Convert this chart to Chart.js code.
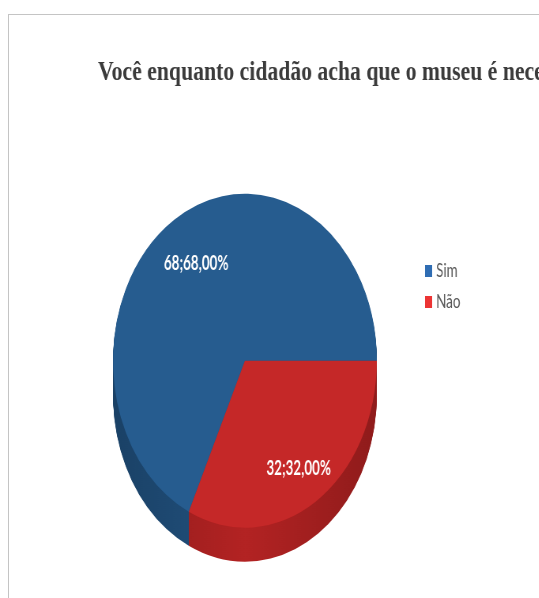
<!DOCTYPE html>
<html>
<head>
<meta charset="utf-8">
<script src="https://cdn.jsdelivr.net/npm/chart.js@4.4.1/dist/chart.umd.min.js"></script>
<style>
  html, body { margin: 0; padding: 0; background: #fff; overflow: hidden; width: 539px; height: 598px; }
  #frame { position: absolute; left: 8px; top: 14px; width: 620px; height: 620px;
           border-left: 1px solid #c4c4c4; border-top: 1px solid #c4c4c4; }
  #wrap { position: absolute; left: 0; top: 0; width: 760px; height: 640px;
          transform: scaleX(0.79); transform-origin: 0 0; }
</style>
</head>
<body>
<div id="frame"></div>
<div id="wrap"><canvas id="pie" width="760" height="640"></canvas></div>
<script>
const labels = ['Sim', 'Não'];
const values = [68, 32];
const colors = ['#265c8f', '#c52828'];
const sideColors = [['#1a4166', '#22527f'], ['#8f1b1b', '#b32323']];
const legendColors = ['#2f6db3', '#ec3434'];
const titleText = 'Você enquanto cidadão acha que o museu é necessário?';

const depth = 34;
const labelRadius = [0.69, 0.76];

const total = values.reduce((a, b) => a + b, 0);

function labelFor(i) {
    const pct = (values[i] / total * 100).toFixed(2).replace('.', ',');
    return values[i] + ';' + pct + '%';
}

// the title runs past the right edge of the picture, so don't let it get squeezed
const wideTitle = {
    id: 'wideTitle',
    afterLayout(chart) {
        if (chart.titleBlock) {
            chart.titleBlock.right = chart.width + 1000;
            chart.titleBlock.width = chart.titleBlock.right - chart.titleBlock.left;
        }
    }
};

// side of the "3D" pie, painted under the slices
const depthPlugin = {
    id: 'depth',
    beforeDatasetsDraw(chart) {
        const ctx = chart.ctx;
        const arcs = chart.getDatasetMeta(0).data;
        ctx.save();
        for (let d = depth; d > 0; d--) {
            arcs.forEach((arc, i) => {
                const g = ctx.createLinearGradient(arc.x - arc.outerRadius, 0, arc.x + arc.outerRadius, 0);
                g.addColorStop(0, sideColors[i][0]);
                g.addColorStop(0.5, sideColors[i][1]);
                g.addColorStop(1, sideColors[i][0]);
                ctx.beginPath();
                ctx.moveTo(arc.x, arc.y + d);
                ctx.arc(arc.x, arc.y + d, arc.outerRadius, arc.startAngle, arc.endAngle);
                ctx.closePath();
                ctx.fillStyle = g;
                ctx.fill();
            });
        }
        ctx.restore();
    }
};

// value labels and the legend on the right
const labelPlugin = {
    id: 'labels',
    afterDatasetsDraw(chart) {
        const ctx = chart.ctx;
        const arcs = chart.getDatasetMeta(0).data;
        ctx.save();
        ctx.font = 'bold 17px Lato';
        ctx.fillStyle = '#ffffff';
        ctx.textAlign = 'center';
        ctx.textBaseline = 'middle';
        arcs.forEach((arc, i) => {
            const mid = (arc.startAngle + arc.endAngle) / 2;
            const r = arc.outerRadius * labelRadius[i];
            ctx.save();
            ctx.translate(arc.x + Math.cos(mid) * r, arc.y + Math.sin(mid) * r);
            ctx.scale(1, 1.25);
            ctx.fillText(labelFor(i), 0, 0);
            ctx.restore();
        });

        ctx.font = '17px Lato';
        ctx.textAlign = 'left';
        ctx.textBaseline = 'alphabetic';
        labels.forEach((lab, i) => {
            const y = 277 + i * 31;
            ctx.fillStyle = legendColors[i];
            ctx.fillRect(538, y - 12, 9, 12);
            ctx.fillStyle = '#595959';
            ctx.save();
            ctx.translate(552, y);
            ctx.scale(1, 1.1);
            ctx.fillText(lab, 0, 0);
            ctx.restore();
        });
        ctx.restore();
    }
};

new Chart(document.getElementById('pie'), {
    type: 'pie',
    data: {
        labels: labels,
        datasets: [{
            data: values,
            backgroundColor: colors,
            borderWidth: 0,
            clip: false
        }]
    },
    options: {
        responsive: false,
        animation: false,
        rotation: 205.2,
        radius: 167,
        layout: { padding: { top: 14, left: 124, right: 264, bottom: 18 } },
        plugins: {
            legend: { display: false },
            tooltip: { enabled: false },
            title: {
                display: true,
                text: titleText,
                align: 'start',
                color: '#3b3b3b',
                font: { family: 'Liberation Serif', size: 27.5, weight: 'bold' },
                padding: { top: 42.5, bottom: 10 }
            }
        }
    },
    plugins: [wideTitle, depthPlugin, labelPlugin]
});
</script>
</body>
</html>
